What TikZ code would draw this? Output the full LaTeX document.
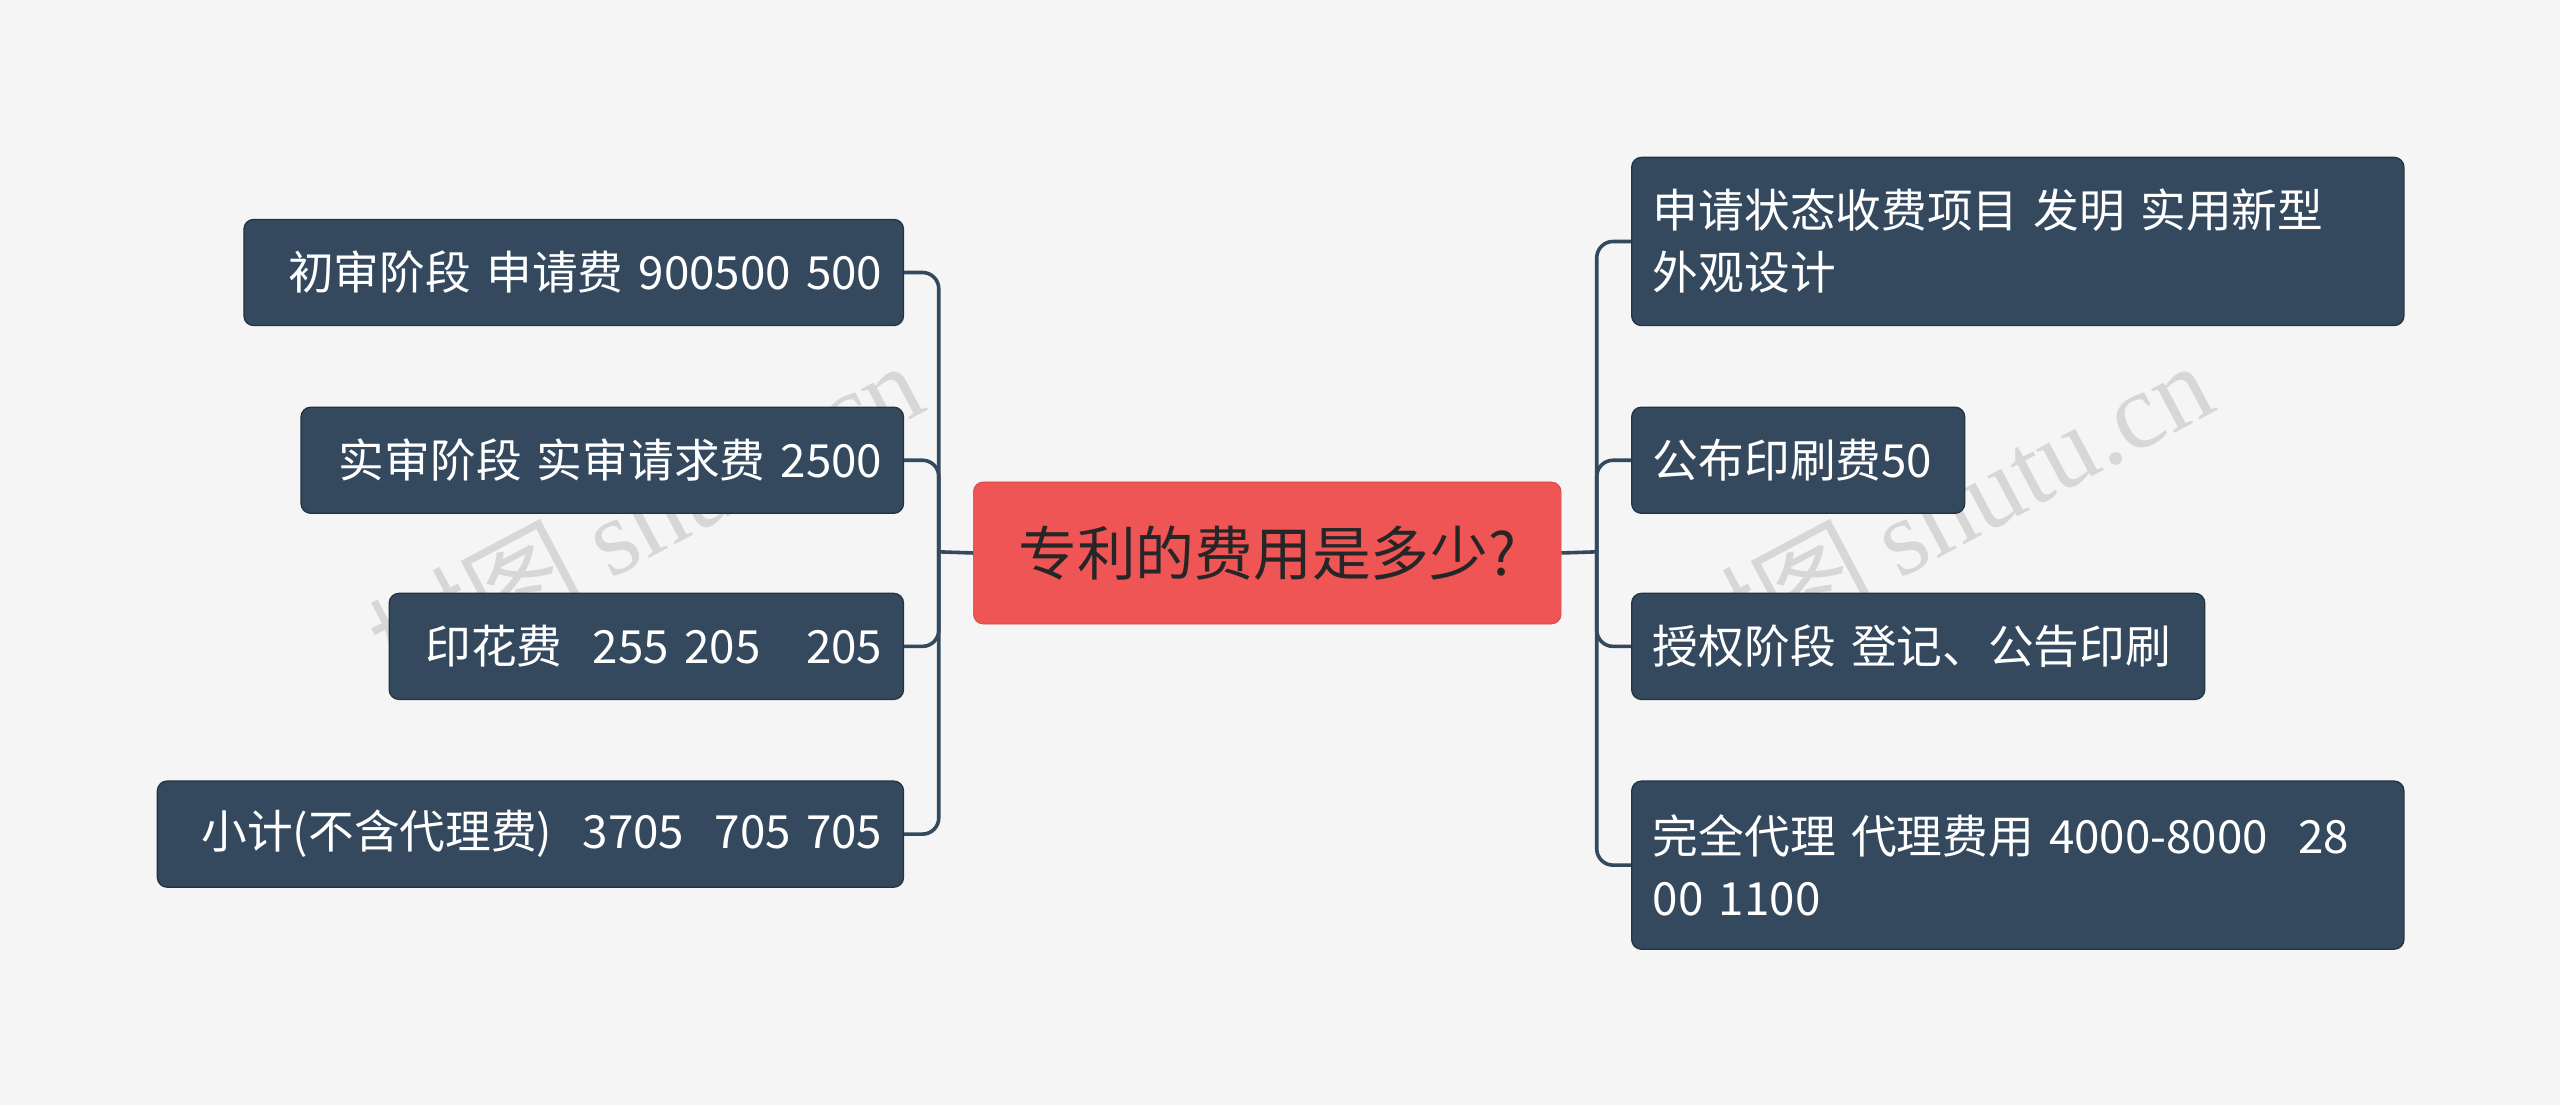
\documentclass[tikz,border=0pt]{standalone}
\usepackage{fontspec}
\setmainfont{Noto Sans CJK SC}
\newfontfamily\wmfont{Liberation Serif}
\newfontfamily\wmcjk{Noto Sans CJK SC}
\definecolor{bg}{HTML}{F5F5F5}
\definecolor{nodec}{HTML}{34495E}
\definecolor{rootc}{HTML}{EF5555}
\begin{document}
\begin{tikzpicture}[x=1pt,y=-1pt,
  box/.style={fill=nodec,draw=nodec!70!black,line width=0.8pt,rounded corners=6pt,text=white,font=\fontsize{28}{38}\selectfont,inner xsep=13pt,inner ysep=0pt,anchor=north west},
  lbox/.style={box,align=right},
  rbox/.style={box,align=left},
  link/.style={draw=nodec,line width=2.2pt,rounded corners=10pt}]
\fill[bg] (0,0) rectangle (1568,677);
\useasboundingbox (0,0) rectangle (1568,677);
\node[opacity=0.12,text=black,rotate=28,font=\fontsize{66}{66}\selectfont] (w1) at (395,315) {\wmcjk 树图 \wmfont shutu.cn};
\node[opacity=0.12,text=black,rotate=28,font=\fontsize{66}{66}\selectfont] (w2) at (1185,315) {\wmcjk 树图 \wmfont shutu.cn};
\node[fill=rootc,draw=rootc!85!black,rounded corners=6pt,minimum width=360pt,minimum height=87pt,anchor=north west,text=black!85,font=\fontsize{36}{40}\selectfont] (root) at (596,295) {专利的费用是多少?};
\node[lbox,minimum height=65pt,text width=378pt] (l1) at (149,134) {初审阶段 申请费 900500 500};
\node[lbox,minimum height=65pt,text width=343pt] (l2) at (184,249) {实审阶段 实审请求费 2500};
\node[lbox,minimum height=65pt,text width=289pt] (l3) at (238,363) {印花费\ \ 255 205\ \ \ 205};
\node[lbox,minimum height=65pt,text width=431pt] (l4) at (96,478) {小计(不含代理费)\ \ 3705\ \ 705 705};
\node[rbox,minimum height=103pt,text width=447pt] (r1) at (999,96) {申请状态收费项目 发明 实用新型\\外观设计};
\node[rbox,minimum height=65pt,text width=178pt] (r2) at (999,249) {公布印刷费50};
\node[rbox,minimum height=65pt,text width=325pt] (r3) at (999,363) {授权阶段 登记、公告印刷};
\node[rbox,minimum height=103pt,text width=447pt] (r4) at (999,478) {完全代理 代理费用 4000-8000\ \ 28\\00 1100};
\coordinate (lt) at (575,338);
\coordinate (rt) at (978,338);
\draw[link] (root.west) -- (lt);
\draw[link] (root.east) -- (rt);
\foreach \n in {l1,l2,l3,l4} \draw[link] (lt) -- (lt |- \n.east) -- (\n.east);
\foreach \n in {r1,r2,r3,r4} \draw[link] (rt) -- (rt |- \n.west) -- (\n.west);
\end{tikzpicture}
\end{document}
